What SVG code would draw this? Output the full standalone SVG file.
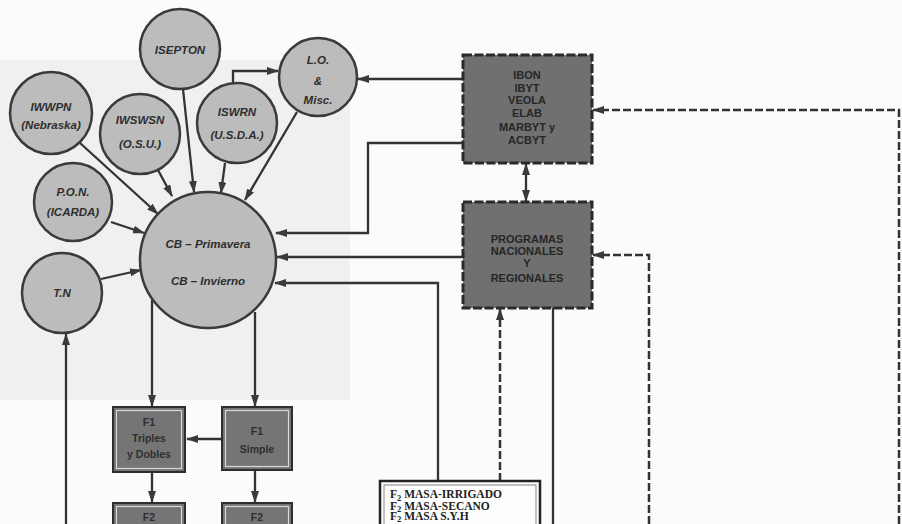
<svg xmlns="http://www.w3.org/2000/svg" width="902" height="524" viewBox="0 0 902 524">
<style>
.circ{fill:#bcbcbc;stroke:#3a3a3a;stroke-width:2.5}
.ct{font-family:"Liberation Sans",Arial,sans-serif;font-weight:bold;font-style:italic;font-size:11.5px;fill:#2e2e2e;text-anchor:middle}
.dbox{fill:#707070;stroke:#2a2a2a;stroke-width:3;stroke-dasharray:9 2.5}
.dt{font-family:"Liberation Sans",Arial,sans-serif;font-weight:bold;font-size:11px;fill:#262626;text-anchor:middle}
.sbox{fill:#757575;stroke:#2e2e2e;stroke-width:2}
.sin{fill:none;stroke:#d8d8d8;stroke-width:1.2}
.st{font-family:"Liberation Sans",Arial,sans-serif;font-weight:bold;font-size:10.5px;fill:#2e2e2e;text-anchor:middle}
.ln{fill:none;stroke:#333;stroke-width:2.3}
.dl{fill:none;stroke:#333;stroke-width:2.5;stroke-dasharray:8 3}
.bt{font-family:"Liberation Serif","Times New Roman",serif;font-weight:bold;font-size:11.5px;fill:#222}
</style>
<defs>
<marker id="ah" viewBox="0 0 12 8" refX="11" refY="4" markerWidth="12" markerHeight="8" markerUnits="userSpaceOnUse" orient="auto-start-reverse">
<path d="M0,0 L12,4 L0,8 Z" fill="#3a3a3a"/>
</marker>
</defs>
<rect x="0" y="0" width="902" height="524" fill="#fbfbfb"/>
<rect x="0" y="60" width="350" height="340" fill="#f0f0f0"/>

<g id="connectors">
<line class="ln" x1="80" y1="143" x2="158" y2="214" marker-end="url(#ah)"/>
<line class="ln" x1="111" y1="222" x2="144" y2="233" marker-end="url(#ah)"/>
<line class="ln" x1="158" y1="170" x2="172" y2="196" marker-end="url(#ah)"/>
<line class="ln" x1="183" y1="89" x2="194" y2="192" marker-end="url(#ah)"/>
<line class="ln" x1="225" y1="163" x2="221" y2="193" marker-end="url(#ah)"/>
<line class="ln" x1="297" y1="112" x2="245" y2="200" marker-end="url(#ah)"/>
<line class="ln" x1="101" y1="279" x2="141" y2="270" marker-end="url(#ah)"/>
<polyline class="ln" points="233,83 233,71 278,71" marker-end="url(#ah)"/>
<line class="ln" x1="66" y1="524" x2="66" y2="334" marker-end="url(#ah)"/>
<line class="ln" x1="463" y1="79" x2="358" y2="79" marker-end="url(#ah)"/>
<polyline class="ln" points="463,143 368,143 368,233 276,233" marker-end="url(#ah)"/>
<line class="ln" x1="463" y1="257" x2="277" y2="257" marker-end="url(#ah)"/>
<polyline class="ln" points="438,481 438,283 275,283" marker-end="url(#ah)"/>
<line class="ln" x1="526" y1="164" x2="526" y2="201" marker-start="url(#ah)" marker-end="url(#ah)"/>
<line class="dl" x1="500" y1="481" x2="500" y2="309" marker-end="url(#ah)"/>
<line class="ln" x1="553" y1="308" x2="553" y2="524"/>
<polyline class="dl" points="649,524 649,255 593,255" marker-end="url(#ah)"/>
<polyline class="dl" points="899,524 899,110 593,110" marker-end="url(#ah)"/>
<line class="ln" x1="152" y1="300" x2="152" y2="406" marker-end="url(#ah)"/>
<line class="ln" x1="255" y1="312" x2="255" y2="406" marker-end="url(#ah)"/>
<line class="ln" x1="222" y1="439" x2="187" y2="439" marker-end="url(#ah)"/>
<line class="ln" x1="152" y1="472" x2="152" y2="502" marker-end="url(#ah)"/>
<line class="ln" x1="255" y1="470" x2="255" y2="502" marker-end="url(#ah)"/>
</g>

<g id="n-isepton"><circle class="circ" cx="180" cy="49" r="40"/><text class="ct" x="180" y="54">ISEPTON</text></g>
<g id="n-iwwpn"><circle class="circ" cx="51" cy="113" r="41"/><text class="ct" x="51" y="111">IWWPN</text><text class="ct" x="51" y="129">(Nebraska)</text></g>
<g id="n-iwswsn"><circle class="circ" cx="140" cy="134" r="40"/><text class="ct" x="140" y="124">IWSWSN</text><text class="ct" x="140" y="148">(O.S.U.)</text></g>
<g id="n-iswrn"><circle class="circ" cx="237" cy="123" r="40"/><text class="ct" x="237" y="116">ISWRN</text><text class="ct" x="237" y="139">(U.S.D.A.)</text></g>
<g id="n-pon"><circle class="circ" cx="73" cy="202" r="39"/><text class="ct" x="73" y="196">P.O.N.</text><text class="ct" x="73" y="216">(ICARDA)</text></g>
<g id="n-lo"><circle class="circ" cx="318" cy="77" r="39"/><text class="ct" x="318" y="64">L.O.</text><text class="ct" x="318" y="85">&amp;</text><text class="ct" x="318" y="104">Misc.</text></g>
<g id="n-tn"><circle class="circ" cx="62" cy="293" r="40"/><text class="ct" x="62" y="297">T.N</text></g>
<g id="n-cb"><circle class="circ" cx="208" cy="260" r="68"/><text class="ct" x="208" y="248" font-size="12.5">CB – Primavera</text><text class="ct" x="208" y="285" font-size="12.5">CB – Invierno</text></g>

<g id="n-box1"><rect class="dbox" x="463" y="55" width="129" height="108"/>
<text class="dt" x="527" y="79">IBON</text><text class="dt" x="527" y="92">IBYT</text><text class="dt" x="527" y="104">VEOLA</text><text class="dt" x="527" y="117">ELAB</text><text class="dt" x="527" y="131">MARBYT y</text><text class="dt" x="527" y="144">ACBYT</text></g>
<g id="n-box2"><rect class="dbox" x="463" y="202" width="129" height="106"/>
<text class="dt" x="527" y="243">PROGRAMAS</text><text class="dt" x="527" y="255">NACIONALES</text><text class="dt" x="527" y="267">Y</text><text class="dt" x="527" y="282">REGIONALES</text></g>

<g id="n-f1tri"><rect class="sbox" x="113" y="407" width="72" height="65"/><rect class="sin" x="116.5" y="410.5" width="65" height="58"/>
<text class="st" x="149" y="426">F1</text><text class="st" x="149" y="442">Triples</text><text class="st" x="149" y="458">y Dobles</text></g>
<g id="n-f1sim"><rect class="sbox" x="222" y="407" width="70" height="63"/><rect class="sin" x="225.5" y="410.5" width="63" height="56"/>
<text class="st" x="257" y="435">F1</text><text class="st" x="257" y="453">Simple</text></g>
<g id="n-f2a"><rect class="sbox" x="113" y="503" width="72" height="30"/><rect class="sin" x="116.5" y="506.5" width="65" height="30"/><text class="st" x="149" y="521">F2</text></g>
<g id="n-f2b"><rect class="sbox" x="222" y="503" width="70" height="30"/><rect class="sin" x="225.5" y="506.5" width="63" height="30"/><text class="st" x="257" y="521">F2</text></g>

<g id="n-masa"><rect x="380" y="481" width="160" height="50" fill="#fdfdfd" stroke="#222" stroke-width="2.5"/><rect x="384" y="485" width="152" height="45" fill="none" stroke="#666" stroke-width="0.8"/>
<text class="bt" x="390" y="498">F<tspan font-size="8.5" dy="2.5">2</tspan><tspan dy="-2.5"> MASA-IRRIGADO</tspan></text>
<text class="bt" x="390" y="509.5">F<tspan font-size="8.5" dy="2.5">2</tspan><tspan dy="-2.5"> MASA-SECANO</tspan></text>
<text class="bt" x="390" y="520">F<tspan font-size="8.5" dy="1.5">2</tspan><tspan dy="-1.5"> MASA S.Y.H</tspan></text></g>
</svg>
